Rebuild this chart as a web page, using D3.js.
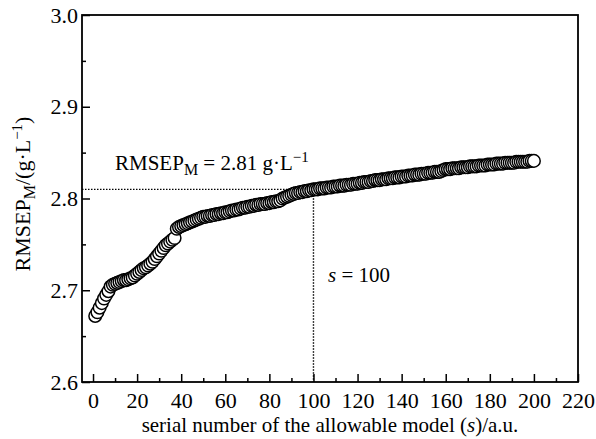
<!DOCTYPE html>
<html>
<head>
<meta charset="utf-8">
<script src="https://cdn.jsdelivr.net/npm/d3@7"></script>
<style>
  body { margin: 0; background: #fff; }
  svg text { font-family: "Liberation Serif", "Times New Roman", serif; fill: #000; }
</style>
</head>
<body>
<div id="chart-area"></div>
<script>
// RMSEP_M of the allowable models, sorted (s = 1..200)
var serial = d3.range(1, 201);
var rmsep = [
  2.672, 2.676, 2.681, 2.686, 2.691, 2.695, 2.699, 2.704, 2.706, 2.707,
  2.708, 2.709, 2.710, 2.711, 2.711, 2.712, 2.713, 2.714, 2.716, 2.718,
  2.720, 2.722, 2.724, 2.725, 2.727, 2.729, 2.731, 2.734, 2.737, 2.740,
  2.743, 2.746, 2.749, 2.751, 2.753, 2.755, 2.757, 2.767, 2.769, 2.770,
  2.771, 2.772, 2.773, 2.774, 2.775, 2.776, 2.777, 2.778, 2.779, 2.780,
  2.780, 2.781, 2.781, 2.782, 2.782, 2.783, 2.783, 2.784, 2.784, 2.785,
  2.785, 2.786, 2.787, 2.787, 2.788, 2.788, 2.789, 2.790, 2.790, 2.791,
  2.791, 2.792, 2.792, 2.793, 2.793, 2.794, 2.794, 2.794, 2.795, 2.795,
  2.796, 2.796, 2.797, 2.797, 2.798, 2.800, 2.801, 2.802, 2.803, 2.804,
  2.805, 2.806, 2.806, 2.807, 2.807, 2.808, 2.808, 2.809, 2.809, 2.810,
  2.810, 2.810, 2.811, 2.811, 2.811, 2.812, 2.812, 2.812, 2.813, 2.813,
  2.813, 2.814, 2.814, 2.814, 2.815, 2.815, 2.815, 2.816, 2.816, 2.816,
  2.817, 2.817, 2.818, 2.818, 2.818, 2.819, 2.819, 2.820, 2.820, 2.820,
  2.821, 2.821, 2.821, 2.822, 2.822, 2.822, 2.823, 2.823, 2.823, 2.824,
  2.824, 2.824, 2.825, 2.825, 2.825, 2.826, 2.826, 2.826, 2.827, 2.827,
  2.827, 2.828, 2.828, 2.828, 2.829, 2.829, 2.829, 2.830, 2.831, 2.832,
  2.832, 2.832, 2.833, 2.833, 2.833, 2.833, 2.834, 2.834, 2.834, 2.834,
  2.835, 2.835, 2.835, 2.835, 2.836, 2.836, 2.836, 2.836, 2.837, 2.837,
  2.837, 2.837, 2.838, 2.838, 2.838, 2.838, 2.839, 2.839, 2.839, 2.839,
  2.839, 2.840, 2.840, 2.840, 2.840, 2.840, 2.840, 2.841, 2.841, 2.841
];
var xTicks = [0, 20, 40, 60, 80, 100, 120, 140, 160, 180, 200, 220];
var xMinor = [10, 30, 50, 70, 90, 110, 130, 150, 170, 190, 210];
var yTicks = [2.6, 2.7, 2.8, 2.9, 3.0];
var yMinor = [2.65, 2.75, 2.85, 2.95];
var refS = 100, refRmsep = 2.81;

var width = 596, height = 439;
var pL = 82, pR = 578, pT = 15, pB = 382;

var svg = d3.select("#chart-area").append("svg")
    .attr("width", width).attr("height", height);

var x = d3.scaleLinear().domain([-5, 220]).range([pL, pR]);
var y = d3.scaleLinear().domain([2.6, 3.0]).range([pB, pT]);

// reference lines
svg.append("line")
    .attr("x1", pL).attr("x2", x(refS))
    .attr("y1", y(refRmsep)).attr("y2", y(refRmsep))
    .attr("stroke", "#000").attr("stroke-width", 1.4)
    .attr("stroke-dasharray", "1.5,1.5");
svg.append("line")
    .attr("x1", x(refS)).attr("x2", x(refS))
    .attr("y1", y(refRmsep)).attr("y2", pB)
    .attr("stroke", "#000").attr("stroke-width", 1.4)
    .attr("stroke-dasharray", "1.5,1.5");

// points
svg.append("g").selectAll("circle")
    .data(serial)
    .enter().append("circle")
    .attr("cx", function(d) { return x(d); })
    .attr("cy", function(d, i) { return y(rmsep[i]); })
    .attr("r", 6.3)
    .attr("fill", "#fff")
    .attr("stroke", "#000")
    .attr("stroke-width", 1.5);

// axes (ticks inward)
svg.append("g").attr("transform", "translate(0," + pB + ")")
    .call(d3.axisBottom(x).tickValues(xTicks).tickSize(-8).tickPadding(10)
      .tickFormat(d3.format("d")));
svg.append("g").attr("transform", "translate(0," + pB + ")")
    .call(d3.axisBottom(x).tickValues(xMinor).tickSize(-4).tickFormat(""));
svg.append("g").attr("transform", "translate(" + pL + ",0)")
    .call(d3.axisLeft(y).tickValues(yTicks).tickSize(-8).tickPadding(4)
      .tickFormat(d3.format(".1f")));
svg.append("g").attr("transform", "translate(" + pL + ",0)")
    .call(d3.axisLeft(y).tickValues(yMinor).tickSize(-4).tickFormat(""));

svg.selectAll(".domain").remove();
svg.selectAll(".tick line").attr("stroke", "#000").attr("stroke-width", 1.5);
svg.selectAll(".tick text").style("font-size", "22px").style("font-family", "Liberation Serif");

// frame
svg.append("rect")
    .attr("x", pL).attr("y", pT)
    .attr("width", pR - pL).attr("height", pB - pT)
    .attr("fill", "none").attr("stroke", "#000").attr("stroke-width", 1.8);

// annotations
var ann = svg.append("text")
    .attr("x", 115).attr("y", 170)
    .style("font-size", "21px");
ann.append("tspan").text("RMSEP");
ann.append("tspan").attr("dy", 5).style("font-size", "16px").text("M");
ann.append("tspan").attr("dy", -5).text(" = 2.81 g\u00B7L");
ann.append("tspan").attr("dy", -8).style("font-size", "15px").text("\u22121");

var sLab = svg.append("text")
    .attr("x", 328).attr("y", 282)
    .style("font-size", "21px");
sLab.append("tspan").style("font-style", "italic").text("s");
sLab.append("tspan").text(" = 100");

// axis titles
var xt = svg.append("text")
    .attr("x", (pL + pR) / 2).attr("y", 432)
    .attr("text-anchor", "middle")
    .style("font-size", "21px");
xt.append("tspan").text("serial number of the allowable model (");
xt.append("tspan").style("font-style", "italic").text("s");
xt.append("tspan").text(")/a.u.");

var yt = svg.append("text")
    .attr("transform", "translate(30,194) rotate(-90)")
    .attr("text-anchor", "middle")
    .style("font-size", "22px");
yt.append("tspan").text("RMSEP");
yt.append("tspan").attr("dy", 5).style("font-size", "16px").text("M");
yt.append("tspan").attr("dy", -5).text("/(g\u00B7L");
yt.append("tspan").attr("dy", -8).style("font-size", "15px").text("\u22121");
yt.append("tspan").attr("dy", 8).text(")");
</script>
</body>
</html>
